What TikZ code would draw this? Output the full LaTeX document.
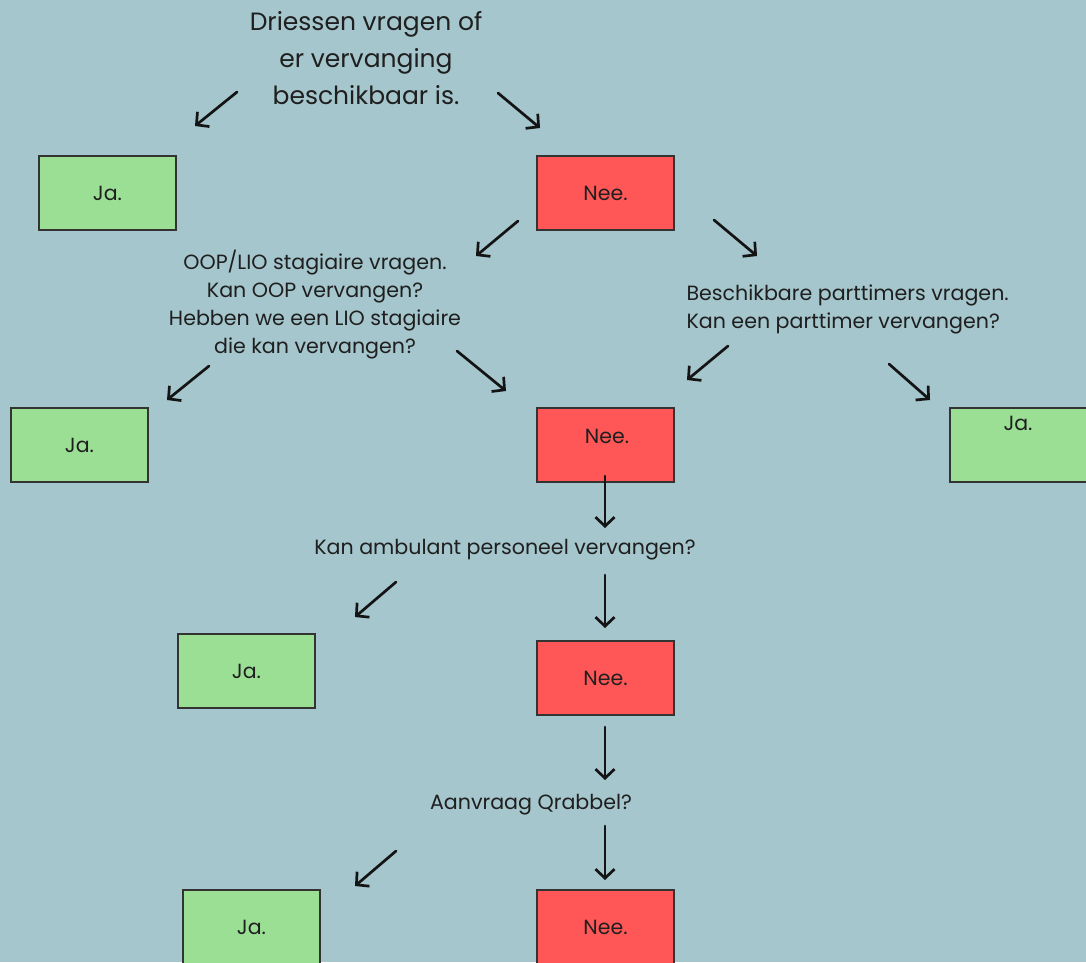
\documentclass[tikz,border=0pt]{standalone}
\usepackage{fontspec}
\setmainfont{Poppins}
\usetikzlibrary{arrows.meta}
\definecolor{bg}{HTML}{A4C6CC}
\definecolor{jagreen}{HTML}{9BDF95}
\definecolor{neered}{HTML}{FF5757}
\definecolor{edge}{HTML}{333333}
\tikzset{
  box/.style={draw=edge, line width=1.1pt, minimum width=137pt, minimum height=74pt, inner sep=0pt},
  jabox/.style={box, fill=jagreen},
  neebox/.style={box, fill=neered},
  lbl/.style={font=\fontsize{20.5}{24}\selectfont, text=black!88},
  qtext/.style={font=\fontsize{20.6}{28}\selectfont, align=center, text=black!88},
  arr/.style={line width=2.7pt, draw=black!92, line cap=round, -{Straight Barb[length=9pt,width=19pt,line width=2.7pt]}},
}
\begin{document}
\begin{tikzpicture}[x=1pt,y=-1pt]
\fill[bg] (0,0) rectangle (1086,962);
\useasboundingbox (0,0) rectangle (1086,962);
\begin{scope}
\clip (0,0) rectangle (1086,962);
% title
\node[font=\fontsize{25}{37}\selectfont, align=center, text=black!88] (title) at (366,58) {Driessen vragen of\\er vervanging\\beschikbaar is.};
% row 1
\node[jabox] (ja1) at (107.5,193) {};
\node[lbl] (ja1t) at (107.5,193) {Ja.};
\node[neebox] (nee1) at (605.5,193) {};
\node[lbl] (nee1t) at (605.5,193) {Nee.};
% questions row 2
\node[qtext] (oop) at (315,305) {OOP/LIO stagiaire vragen.\\Kan OOP vervangen?\\Hebben we een LIO stagiaire\\die kan vervangen?};
\node[qtext, align=left, anchor=west] (part) at (683,309) {Beschikbare parttimers vragen.\\Kan een parttimer vervangen?};
% row 3
\node[jabox] (ja2) at (79.5,445) {};
\node[lbl] (ja2t) at (79.5,445) {Ja.};
\node[neebox] (nee2) at (605.5,445) {};
\node[lbl] (nee2t) at (607,436) {Nee.};
\node[jabox, minimum width=140pt] (ja3) at (1020,445) {};
\node[lbl] (ja3t) at (1018,423) {Ja.};
% ambulant
\node[qtext] (amb) at (505,550) {Kan ambulant personeel vervangen?};
\node[jabox] (ja4) at (246.5,671) {};
\node[lbl] (ja4t) at (246.5,671) {Ja.};
\node[neebox] (nee3) at (605.5,678) {};
\node[lbl] (nee3t) at (605.5,678) {Nee.};
% qrabbel
\node[qtext] (qr) at (531,805) {Aanvraag Qrabbel?};
\node[jabox] (ja5) at (251.5,927) {};
\node[lbl] (ja5t) at (251.5,927) {Ja.};
\node[neebox] (nee4) at (605.5,927) {};
\node[lbl] (nee4t) at (605.5,927) {Nee.};
\end{scope}
% arrow coordinates
\coordinate (a1s) at (237,92);  \coordinate (a1e) at (195,126);
\coordinate (a2s) at (498,93);  \coordinate (a2e) at (540,128);
\coordinate (a3s) at (518,221); \coordinate (a3e) at (476,256);
\coordinate (a4s) at (714,220); \coordinate (a4e) at (757,256);
\coordinate (a5s) at (209,366); \coordinate (a5e) at (167,400);
\coordinate (a6s) at (457,351); \coordinate (a6e) at (506,391);
\coordinate (a7s) at (728,346); \coordinate (a7e) at (687,380);
\coordinate (a8s) at (889,364); \coordinate (a8e) at (930,400);
\coordinate (a9s) at (605,476); \coordinate (a9e) at (605,528);
\coordinate (a10s) at (396,582); \coordinate (a10e) at (355,617);
\coordinate (a11s) at (605,575); \coordinate (a11e) at (605,628);
\coordinate (a12s) at (605,727); \coordinate (a12e) at (605,780);
\coordinate (a13s) at (396,851); \coordinate (a13e) at (355,886);
\coordinate (a14s) at (605,826); \coordinate (a14e) at (605,880);
\foreach \i in {1,...,14} {\draw[arr] (a\i s) -- (a\i e);}
\end{tikzpicture}
\end{document}
